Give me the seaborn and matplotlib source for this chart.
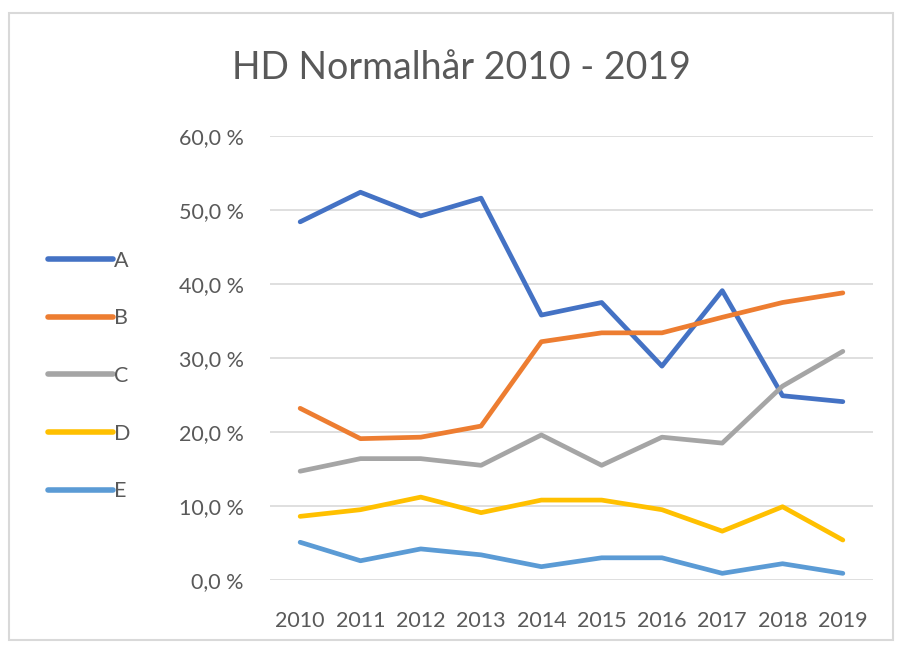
import pandas as pd
import seaborn as sns
import matplotlib.pyplot as plt
from matplotlib.patches import Rectangle

# data (percent)
years = [2010, 2011, 2012, 2013, 2014, 2015, 2016, 2017, 2018, 2019]
A = [48.4, 52.4, 49.2, 51.6, 35.8, 37.5, 28.9, 39.1, 24.9, 24.1]
B = [23.2, 19.1, 19.3, 20.8, 32.2, 33.4, 33.4, 35.5, 37.5, 38.8]
C = [14.7, 16.4, 16.4, 15.5, 19.6, 15.5, 19.3, 18.5, 26.2, 30.9]
D = [8.6, 9.5, 11.2, 9.1, 10.8, 10.8, 9.5, 6.6, 9.9, 5.4]
E = [5.1, 2.6, 4.2, 3.4, 1.8, 3.0, 3.0, 0.9, 2.2, 0.9]
series = {"A": A, "B": B, "C": C, "D": D, "E": E}
colors = ["#4472C4", "#ED7D31", "#A5A5A5", "#FFC000", "#5B9BD5"]

rows = []
for name, vals in series.items():
    for yr, v in zip(years, vals):
        rows.append({"year": yr, "value": v, "series": name})
df = pd.DataFrame(rows)

sns.set_theme(style="white")
plt.rcParams['font.family'] = ['Lato', 'DejaVu Sans']
txt = "#595959"
fs = 15.5

fig = plt.figure(figsize=(8.99, 6.45), dpi=100)
ax = fig.add_axes([270 / 899, 1 - 580 / 645, 603 / 899, 444 / 645])

sns.lineplot(data=df, x="year", y="value", hue="series", palette=colors,
             linewidth=3.4, ax=ax, legend=False, solid_capstyle="round")

ax.set_xlim(2009.5, 2019.5)
ax.set_ylim(0, 60)
ax.set_yticks(range(0, 61, 10))
ax.set_yticklabels([f"{t},0 %" for t in range(0, 61, 10)])
ax.set_xticks(years)
ax.set_xticklabels([str(y) for y in years])
ax.tick_params(axis="both", labelsize=fs, colors=txt, length=0)
ax.tick_params(axis="y", pad=19)
ax.tick_params(axis="x", pad=22)
ax.grid(axis="y", color="#D9D9D9", linewidth=1.2)
ax.set_axisbelow(True)
for s in ax.spines.values():
    s.set_visible(False)
ax.set_xlabel("")
ax.set_ylabel("")

fig.text(461 / 899, 1 - 68 / 645, "HD Normalhår 2010 - 2019", ha="center",
         va="center", fontsize=27, color=txt)

handles = [plt.Line2D([], [], color=c, linewidth=4, solid_capstyle="round")
           for c in colors]
fig.legend(handles, list(series.keys()), loc="center left",
           bbox_to_anchor=(29 / 899, 1 - 376 / 645), frameon=False,
           fontsize=fs, labelcolor=txt, handlelength=3.0,
           handletextpad=0.05, labelspacing=1.75)

fig.add_artist(Rectangle((9 / 899, 5 / 645), 884 / 899, 627 / 645,
                         transform=fig.transFigure, fill=False,
                         edgecolor="#D9D9D9", linewidth=1.5))

fig.savefig("out.png", dpi=100)
